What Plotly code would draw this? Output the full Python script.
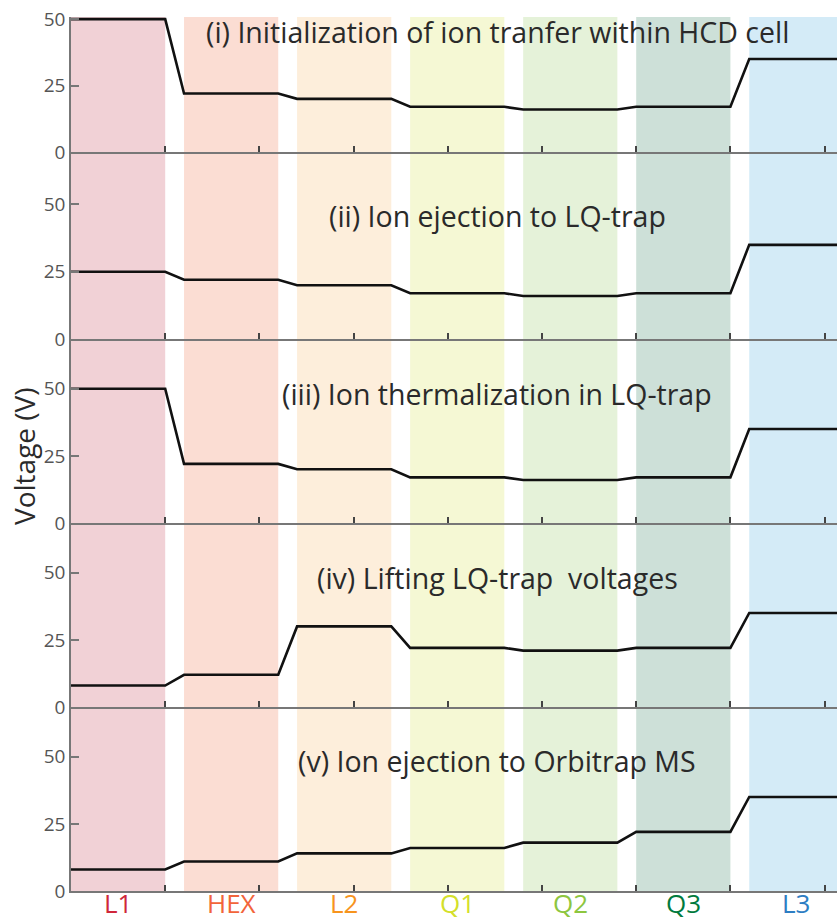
import plotly.graph_objects as go

electrodes = ["L1", "HEX", "L2", "Q1", "Q2", "Q3", "L3"]
band_starts = [0.0, 1.2, 2.4, 3.6, 4.8, 6.0, 7.2]
band_width = 1.0
band_colors = ["#f1d1d6", "#fbddd3", "#fdeedb", "#f5f8d4", "#e5f2d9", "#cde0d8", "#d4ebf7"]
label_colors = ["#d0263a", "#f2643a", "#f7941d", "#d4df2a", "#8dc63f", "#007a3d", "#2d7dc3"]

titles = [
    "(i) Initialization of ion tranfer within HCD cell",
    "(ii) Ion ejection to LQ-trap",
    "(iii) Ion thermalization in LQ-trap",
    "(iv) Lifting LQ-trap  voltages",
    "(v) Ion ejection to Orbitrap MS",
]
v_init = [50, 22, 20, 17, 16, 17, 35]
v_eject = [25, 22, 20, 17, 16, 17, 35]
v_therm = [50, 22, 20, 17, 16, 17, 35]
v_lift = [8, 12, 30, 22, 21, 22, 35]
v_orbi = [8, 11, 14, 16, 18, 22, 35]
panels = [v_init, v_eject, v_therm, v_lift, v_orbi]
y_ticks = [0, 25, 50]
x_ticks = [0, 1, 2, 3, 4, 5, 6, 7, 8]

FONT = "Open Sans"
W, H = 837, 923
top_px, bot_px = 17, 891
edges_px = [17, 152, 339, 523, 707, 891]
ranges_top = [50.8, 69.5, 68.5, 68.5, 68.5]
title_px = [32, 216, 394, 578, 761]
plot_h = bot_px - top_px

def pfrac(p):
    return (bot_px - p) / plot_h

fig = go.Figure()
layout = {}
for i, vals in enumerate(panels):
    xs, ys = [], []
    for s, v in zip(band_starts, vals):
        xs += [s, s + band_width]
        ys += [v, v]
    n = i + 1
    fig.add_trace(go.Scatter(x=xs, y=ys, mode="lines",
                             line=dict(color="#111111", width=2.6),
                             xaxis="x" if n == 1 else f"x{n}",
                             yaxis="y" if n == 1 else f"y{n}",
                             showlegend=False, hoverinfo="skip"))
    d0 = pfrac(edges_px[i + 1])
    d1 = pfrac(edges_px[i])
    xk = "xaxis" if n == 1 else f"xaxis{n}"
    yk = "yaxis" if n == 1 else f"yaxis{n}"
    layout[xk] = dict(range=[0, (W - 71) / 94.2], domain=[0, 1],
                      anchor="y" if n == 1 else f"y{n}",
                      showgrid=False, zeroline=False, showline=True,
                      linecolor="#777777", linewidth=1.5,
                      tickvals=x_ticks, ticks="inside", ticklen=6,
                      tickcolor="#444444", tickwidth=1.5,
                      showticklabels=False,
                      matches=None if n == 1 else "x")
    layout[yk] = dict(range=[0, ranges_top[i]], domain=[d0, d1],
                      anchor="x" if n == 1 else f"x{n}",
                      showgrid=False, zeroline=False, showline=True,
                      linecolor="#777777", linewidth=1.5,
                      tickvals=y_ticks, ticks="inside", ticklen=8,
                      tickcolor="#777777", tickwidth=1.5,
                      tickfont=dict(size=19, color="#555555", family=FONT))

shapes = []
for s, c in zip(band_starts, band_colors):
    shapes.append(dict(type="rect", xref="x", yref="paper",
                       x0=s, x1=s + band_width, y0=0, y1=1,
                       fillcolor=c, line=dict(width=0), layer="below"))

annotations = []
for t, p in zip(titles, title_px):
    annotations.append(dict(text=t, xref="paper", yref="paper",
                            x=(497 - 71) / (W - 71), y=pfrac(p),
                            xanchor="center", yanchor="middle", showarrow=False,
                            font=dict(size=28.5, color="#2a2a2a", family=FONT)))
for e, s, c in zip(electrodes, band_starts, label_colors):
    annotations.append(dict(text=e, xref="x", yref="paper",
                            x=s + band_width / 2, y=pfrac(922),
                            xanchor="center", yanchor="bottom", showarrow=False,
                            borderpad=0,
                            font=dict(size=26, color=c, family=FONT)))
annotations.append(dict(text="Voltage (V)", xref="paper", yref="paper",
                        x=(24 - 71) / (W - 71), y=pfrac(456), textangle=-90,
                        xanchor="center", yanchor="middle", showarrow=False,
                        font=dict(size=28, color="#2a2a2a", family=FONT)))

fig.update_layout(width=W, height=H, margin=dict(l=71, r=0, t=17, b=923 - 891),
                  plot_bgcolor="rgba(0,0,0,0)", paper_bgcolor="white",
                  shapes=shapes, annotations=annotations, **layout)
fig.write_html("out.html", config={"displayModeBar": False},
               post_script="document.body.style.margin='0';document.body.style.overflow='hidden';")
